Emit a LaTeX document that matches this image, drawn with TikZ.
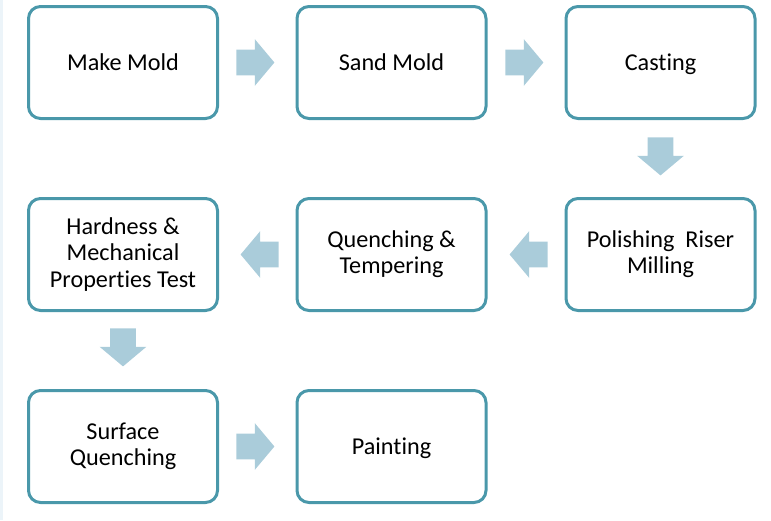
\documentclass[tikz,border=0pt]{standalone}
\usepackage{fontspec}
\setmainfont{Carlito}[Ligatures={NoCommon,NoDiscretionary}]
\usetikzlibrary{shapes.arrows}
\definecolor{boxline}{RGB}{74,152,170}
\definecolor{arrowfill}{RGB}{170,204,218}
\definecolor{edgestrip}{RGB}{236,244,249}
\newcommand\stepstrut{\rule[-2.1pt]{0pt}{12.1pt}}

\begin{document}
\begin{tikzpicture}[x=0.5pt,y=-0.5pt,
    stepbox/.style={draw=boxline, line width=1.5pt, rounded corners=6pt,
      fill=white, minimum width=94.5pt, minimum height=56pt, inner sep=0pt,
      align=center, font=\fontsize{12.1}{13.1}\selectfont,
      execute at begin node=\stepstrut, execute at end node=\stepstrut},
    blockarrow/.style={single arrow, fill=arrowfill, draw=none, anchor=tail,
      inner xsep=0pt, inner ysep=6.25pt, minimum height=19pt,
      single arrow head extend=5.25pt, single arrow tip angle=100},
    blockarrow down/.style={blockarrow, shape border rotate=270,
      inner xsep=6.25pt, inner ysep=0pt},
    blockarrow left/.style={blockarrow, shape border rotate=180}]
    \useasboundingbox (0,0) rectangle (771,520);
    \fill[edgestrip] (0,0) rectangle (3,520);

    \node[stepbox] (mold) at (123,62.5) {Make Mold};
    \node[stepbox] (sand) at (391.5,62.5) {Sand Mold};
    \node[stepbox] (cast) at (660.5,62.5) {Casting};
    \node[stepbox] (hard) at (123,254.5) {Hardness \&\\Mechanical\\Properties Test};
    \node[stepbox] (quen) at (391.5,254.5) {Quenching \&\\Tempering};
    \node[stepbox] (poli) at (660.5,254.5) {Polishing~~Riser\\Milling};
    \node[stepbox] (surf) at (123,446.5) {Surface\\Quenching};
    \node[stepbox] (pain) at (391.5,446.5) {Painting};

    \node[blockarrow] (mold-sand) at (236,62.5) {};
    \node[blockarrow] (sand-cast) at (505,62.5) {};
    \node[blockarrow down] (cast-poli) at (660.5,137) {};
    \node[blockarrow left] (poli-quen) at (548,254.5) {};
    \node[blockarrow left] (quen-hard) at (279,254.5) {};
    \node[blockarrow down] (hard-surf) at (123,328) {};
    \node[blockarrow] (surf-pain) at (236,446.5) {};
  \end{tikzpicture}
\end{document}
